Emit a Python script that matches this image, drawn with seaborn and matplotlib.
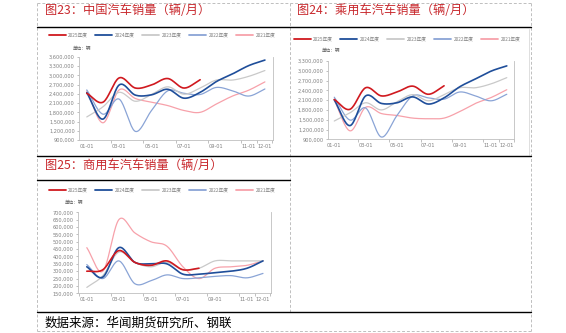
import numpy as np
import pandas as pd
import matplotlib
matplotlib.use("Agg")
import matplotlib.pyplot as plt
import seaborn as sns
from matplotlib.lines import Line2D
from matplotlib.ticker import FuncFormatter, FixedLocator

# ---------------- data (vehicles per month) ----------------
months = np.arange(12)  # Jan..Dec
tick_pos = [0, 2, 4, 6, 8, 10, 11]
tick_labels = ["01-01", "03-01", "05-01", "07-01", "09-01", "11-01", "12-01"]
series_names = ["2025年度", "2024年度", "2023年度", "2022年度", "2021年度"]

# 中国汽车销量 (million)
total_2025 = [2.42, 2.13, 2.92, 2.59, 2.69, 2.90, 2.59, 2.86]
total_2024 = [2.44, 1.58, 2.69, 2.36, 2.37, 2.55, 2.26, 2.45, 2.80, 3.05, 3.32, 3.50]
total_2023 = [1.65, 1.98, 2.45, 2.16, 2.38, 2.63, 2.39, 2.59, 2.85, 2.85, 2.97, 3.16]
total_2022 = [2.53, 1.74, 2.23, 1.18, 1.86, 2.50, 2.42, 2.38, 2.61, 2.50, 2.33, 2.56]
total_2021 = [2.50, 1.46, 2.53, 2.25, 2.13, 2.02, 1.86, 1.80, 2.07, 2.33, 2.52, 2.79]

# 乘用车汽车销量 (million)
pass_2025 = [2.12, 1.82, 2.48, 2.23, 2.35, 2.53, 2.28, 2.54]
pass_2024 = [2.11, 1.32, 2.23, 2.00, 2.02, 2.20, 1.98, 2.17, 2.51, 2.75, 2.99, 3.15]
pass_2023 = [1.46, 1.71, 2.02, 1.80, 2.05, 2.27, 2.08, 2.27, 2.48, 2.48, 2.60, 2.79]
pass_2022 = [2.19, 1.49, 1.86, 0.97, 1.63, 2.23, 2.17, 2.13, 2.35, 2.23, 2.08, 2.28]
pass_2021 = [2.10, 1.16, 1.88, 1.69, 1.63, 1.55, 1.53, 1.55, 1.75, 2.00, 2.18, 2.42]

# 商用车汽车销量 (million)
comm_2025 = [0.30, 0.31, 0.44, 0.36, 0.34, 0.37, 0.31, 0.32]
comm_2024 = [0.33, 0.26, 0.46, 0.36, 0.35, 0.35, 0.28, 0.28, 0.29, 0.30, 0.32, 0.37]
comm_2023 = [0.19, 0.27, 0.43, 0.36, 0.33, 0.36, 0.31, 0.32, 0.37, 0.37, 0.37, 0.37]
comm_2022 = [0.345, 0.25, 0.37, 0.215, 0.235, 0.275, 0.25, 0.255, 0.265, 0.27, 0.255, 0.285]
comm_2021 = [0.46, 0.30, 0.65, 0.56, 0.50, 0.47, 0.33, 0.25, 0.32, 0.33, 0.34, 0.37]

colors = ["#D0191F", "#1F4E9A", "#C9C9C9", "#8AA4D6", "#F7A1AA"]
widths = [1.2, 1.2, 0.9, 0.9, 0.9]

# ---------------- helpers ----------------
W, H = 566, 333
sns.set_theme(style="white")
plt.rcParams["font.family"] = ["Noto Sans CJK SC", "DejaVu Sans"]
plt.rcParams["axes.unicode_minus"] = False

fig = plt.figure(figsize=(W / 100, H / 100), dpi=100)
fig.patch.set_facecolor("white")


def rect(l, t, r, b):
    return [l / W, 1 - b / H, (r - l) / W, (b - t) / H]


def fx(x):
    return x / W


def fy(y):
    return 1 - y / H


def smooth(vals, n=20):
    """Excel-like smooth line (cubic Hermite / Catmull-Rom through the points)."""
    y = np.asarray(vals, dtype=float)
    x = np.arange(len(y), dtype=float)
    m = np.zeros_like(y)
    m[1:-1] = (y[2:] - y[:-2]) / 2
    m[0] = y[1] - y[0]
    m[-1] = y[-1] - y[-2]
    xs, ys = [], []
    for i in range(len(y) - 1):
        t = np.linspace(0, 1, n, endpoint=False)
        h00 = 2 * t**3 - 3 * t**2 + 1
        h10 = t**3 - 2 * t**2 + t
        h01 = -2 * t**3 + 3 * t**2
        h11 = t**3 - t**2
        xs.append(x[i] + t)
        ys.append(h00 * y[i] + h10 * m[i] + h01 * y[i + 1] + h11 * m[i + 1])
    xs.append([x[-1]])
    ys.append([y[-1]])
    return np.concatenate(xs), np.concatenate(ys)


def draw_panel(pos, data, ylo, yhi, step, xl):
    ax = fig.add_axes(rect(*pos))
    ax.set_facecolor("white")
    for k, (name, vals, c, lw) in enumerate(zip(series_names, data, colors, widths)):
        sx, sy = smooth(vals)
        df = pd.DataFrame({"month": sx, "value": sy * 1e6})
        sns.lineplot(data=df, x="month", y="value", color=c, linewidth=lw,
                     ax=ax, sort=False, estimator=None, legend=False, zorder=5 - k)
    ax.set_xlim(*xl)
    ax.set_ylim(ylo, yhi)
    ax.set_yticks(np.arange(ylo, yhi + 1, step))
    ax.yaxis.set_major_formatter(FuncFormatter(lambda v, p: f"{v:,.0f}"))
    ax.set_xticks(tick_pos)
    ax.set_xticklabels(tick_labels)
    ax.xaxis.set_minor_locator(FixedLocator([-0.5, 1.5, 3.5, 5.5, 7.5, 9.5, 10.5, 11.45]))
    ax.tick_params(axis="x", which="major", length=0, pad=3, labelsize=3.6, labelcolor="#7F7F7F")
    ax.tick_params(axis="x", which="minor", length=2.2, width=0.5, color="#A6A6A6", direction="out", bottom=True)
    ax.tick_params(axis="y", which="major", length=1.8, width=0.5, color="#A6A6A6", direction="out",
                   left=True, pad=1.2, labelsize=3.6, labelcolor="#7F7F7F")
    for lab in ax.get_yticklabels() + ax.get_xticklabels():
        lab.set_fontfamily("DejaVu Sans")
    ax.set_xlabel("")
    ax.set_ylabel("")
    ax.grid(False)
    for s in ["left", "bottom", "right"]:
        ax.spines[s].set_visible(True)
        ax.spines[s].set_color("#BFBFBF")
        ax.spines[s].set_linewidth(0.6)
    ax.spines["top"].set_visible(False)
    return ax


ax1 = draw_panel((79, 57, 273, 140), [total_2025, total_2024, total_2023, total_2022, total_2021],
                 900000, 3600000, 300000, (-0.48, 11.5))
ax2 = draw_panel((328, 61, 514, 139.3), [pass_2025, pass_2024, pass_2023, pass_2022, pass_2021],
                 900000, 3300000, 300000, (-0.4, 11.46))
ax3 = draw_panel((78, 212.3, 271, 293.3), [comm_2025, comm_2024, comm_2023, comm_2022, comm_2021],
                 150000, 700000, 50000, (-0.55, 11.5))

# legends
handles = [Line2D([0], [0], color=c, lw=1.3) for c in colors]
for cx, cy in [(162, 35.5), (407, 39), (162, 190)]:
    fig.legend(handles, series_names, loc="center", bbox_to_anchor=(fx(cx), fy(cy)),
               ncol=5, frameon=False, fontsize=3.4, handlelength=3.6, handletextpad=0.5,
               columnspacing=1.6, labelcolor="#7F7F7F", borderpad=0, borderaxespad=0)

# unit labels
for x, y in [(73, 49), (322, 51), (65, 202)]:
    fig.text(fx(x), fy(y), "单位：辆", fontsize=3.3, color="#595959", ha="left", va="center")

# titles
title_color = "#C8282D"
tkw = dict(fontsize=8.8, color=title_color, ha="left", va="center", fontweight="light")
fig.text(fx(45), fy(10), "图23：中国汽车销量（辆/月）", **tkw)
fig.text(fx(297), fy(10), "图24：乘用车汽车销量（辆/月）", **tkw)
fig.text(fx(45), fy(165), "图25：商用车汽车销量（辆/月）", **tkw)
fig.text(fx(45), fy(323), "数据来源：华闻期货研究所、钢联", fontsize=9, color="#000000",
         ha="left", va="center", fontweight="light")

# frame lines
def hline(y, x0, x1, **kw):
    fig.add_artist(Line2D([fx(x0), fx(x1)], [fy(y), fy(y)], transform=fig.transFigure, **kw))


def vline(x, y0, y1, **kw):
    fig.add_artist(Line2D([fx(x), fx(x)], [fy(y0), fy(y1)], transform=fig.transFigure, **kw))


dash = dict(color="#BFBFBF", lw=0.7, ls=(0, (3, 2)))
hline(3, 37, 531, **dash)
hline(331, 37, 531, **dash)
vline(37, 3, 331, **dash)
vline(531, 3, 331, **dash)
vline(290, 3, 312, **dash)
vline(529, 29, 155, color="#D9D9D9", lw=0.6)

solid = dict(color="#000000", lw=1.0)
hline(27, 37, 531, **solid)
hline(156, 37, 531, **solid)
hline(179.5, 37, 290, **solid)
hline(312, 37, 531, **solid)

fig.savefig("out.png", dpi=100, facecolor="white")
